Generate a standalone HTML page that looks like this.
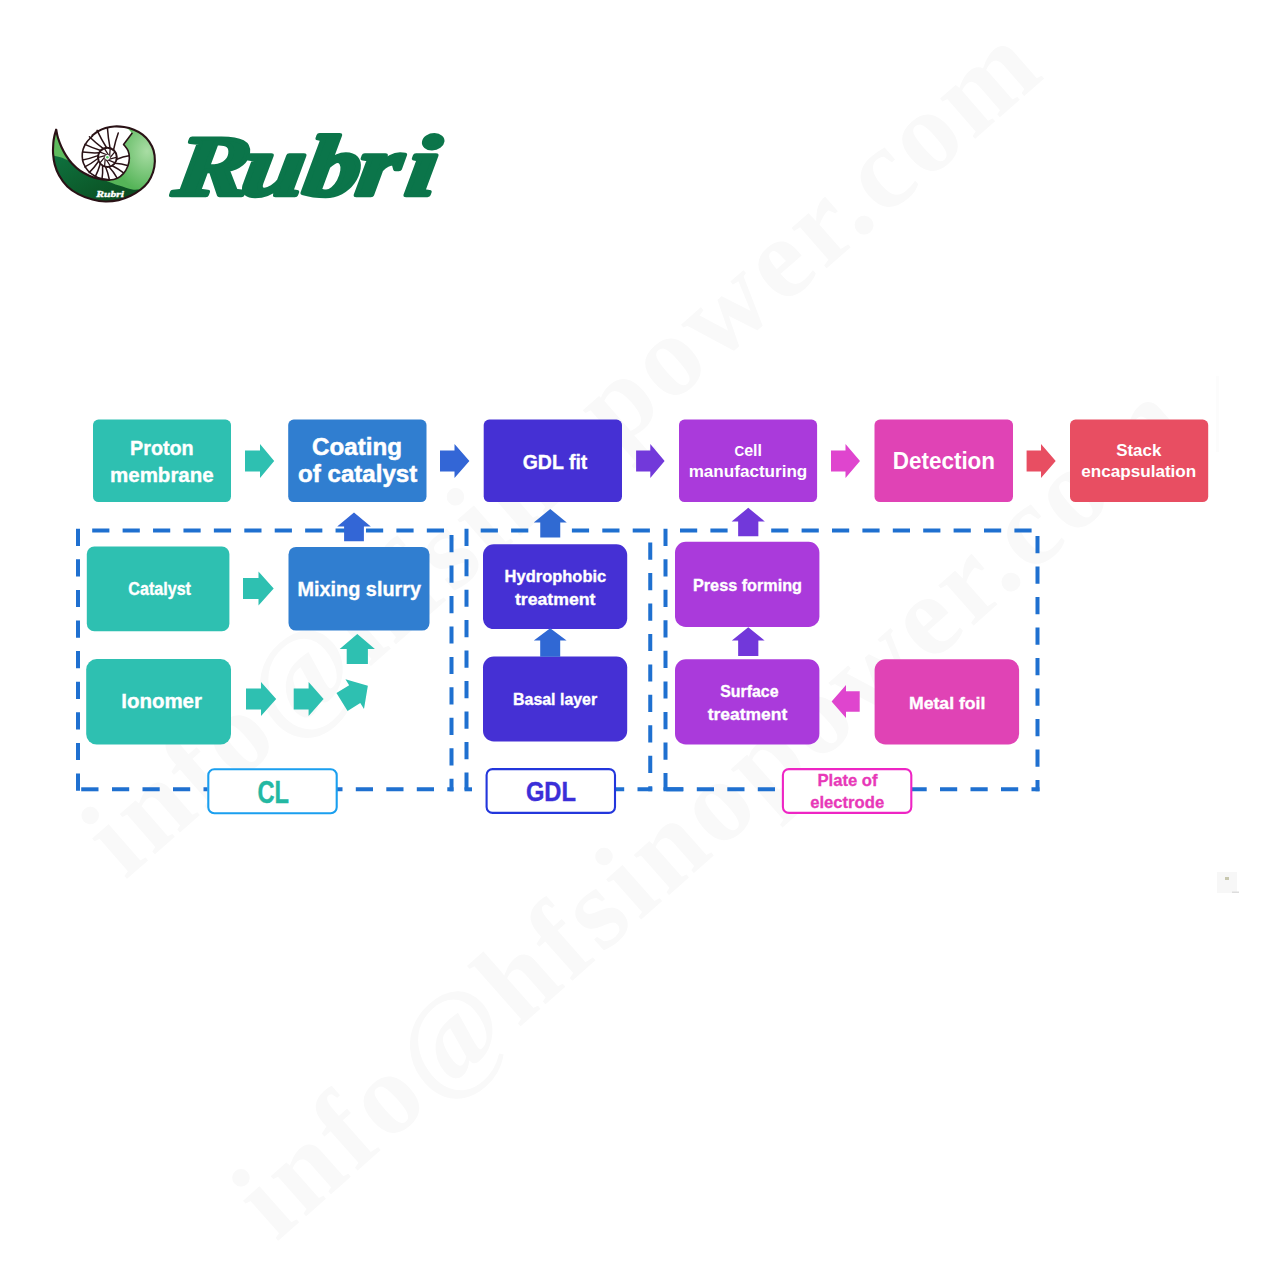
<!DOCTYPE html>
<html lang="en"><head><meta charset="utf-8"><title>Rubri - Fuel cell stack process flow</title>
<style>
html,body{margin:0;padding:0;background:#fff;}
body{width:1282px;height:1282px;overflow:hidden;position:relative;}
svg{position:absolute;left:0;top:0;display:block;}
text{font-family:"Liberation Sans",sans-serif;font-weight:bold;}
.wm text{font-family:"Liberation Serif",serif;font-weight:bold;fill:#f9f9f9;font-size:116px;letter-spacing:4.4px;}
.logo{font-family:"Liberation Serif",serif;font-weight:bold;font-style:italic;}
</style></head><body>
<svg width="1282" height="1282" viewBox="0 0 1282 1282">
<defs>
<radialGradient id="gcres" cx="0.75" cy="0.4" r="0.6"><stop offset="0" stop-color="#A9DDA4"/><stop offset="1" stop-color="#55B458"/></radialGradient>
<clipPath id="clipdiag"><rect x="330" y="670" width="38" height="60"/></clipPath>
</defs>

<g class="wm">
<text transform="translate(124.9,880.4) rotate(-41.1)">info@hfsinopower.com</text>
<text transform="translate(276.2,1242.5) rotate(-41.5)">info@hfsinopower.com</text>
</g>
<g fill="none" stroke="#1F70D0" stroke-width="4">
<path d="M92.2 530.5H452" stroke-dasharray="17.2 13.22" stroke-dashoffset="0.0"/>
<path d="M78 528.7V791.2" stroke-dasharray="17.2 13.4" stroke-dashoffset="0.0"/>
<path d="M100 789.3H207.6" stroke-dasharray="17.2 13.3" stroke-dashoffset="18.5"/>
<path d="M81.2 789.3H98.5"/>
<path d="M337 789.3H453.5" stroke-dasharray="17.2 13.3" stroke-dashoffset="11.7"/>
<path d="M451.5 535V791.2" stroke-dasharray="17.2 13.27" stroke-dashoffset="0.0"/>
<path d="M480.7 530.5H652" stroke-dasharray="17.2 13.2" stroke-dashoffset="0.0"/>
<path d="M466.5 528.7V791.2" stroke-dasharray="17.2 13.27" stroke-dashoffset="0.0"/>
<path d="M464.5 789.3H472"/>
<path d="M616 789.3H652.2" stroke-dasharray="17.2 13.3" stroke-dashoffset="9.0"/>
<path d="M650.25 542.5V791.2" stroke-dasharray="17.2 13.27" stroke-dashoffset="0.0"/>
<path d="M680 530.5H1036" stroke-dasharray="17.2 13.2" stroke-dashoffset="0.0"/>
<path d="M665.5 528.7V791.2" stroke-dasharray="17.2 13.34" stroke-dashoffset="0.0"/>
<path d="M663.5 789.3H683"/>
<path d="M663.5 789.3H782.6" stroke-dasharray="17.2 13.3" stroke-dashoffset="27.7"/>
<path d="M911.5 789.3H1039.5" stroke-dasharray="17.2 13.3" stroke-dashoffset="2.0"/>
<path d="M1037.5 536V791.2" stroke-dasharray="17.2 13.3" stroke-dashoffset="0.0"/>
</g>
<rect x="93" y="419.6" width="138" height="82.4" rx="5.5" fill="#2EC0B1"/>
<rect x="288.2" y="419.6" width="138.3" height="82.4" rx="5.5" fill="#307ED0"/>
<rect x="483.7" y="419.6" width="138.3" height="82.4" rx="5.5" fill="#4530D4"/>
<rect x="679" y="419.6" width="138.1" height="82.4" rx="5.5" fill="#AA3ADB"/>
<rect x="874.5" y="419.6" width="138.5" height="82.4" rx="5.5" fill="#E043B5"/>
<rect x="1070" y="419.6" width="138.2" height="82.4" rx="5.5" fill="#E84E62"/>
<rect x="86.8" y="546.5" width="142.6" height="84.8" rx="7.5" fill="#2EC0B1"/>
<rect x="288.5" y="546.9" width="141.0" height="83.7" rx="7.5" fill="#307ED0"/>
<rect x="483" y="544.3" width="144.2" height="84.8" rx="10.8" fill="#4530D4"/>
<rect x="675" y="541.8" width="144.4" height="85.2" rx="10.8" fill="#AA3ADB"/>
<rect x="86.2" y="659.1" width="144.8" height="85.5" rx="10.5" fill="#2EC0B1"/>
<rect x="483" y="656.5" width="144.2" height="85.0" rx="10.8" fill="#4530D4"/>
<rect x="675" y="659.3" width="144.4" height="85.2" rx="10.8" fill="#AA3ADB"/>
<rect x="874.6" y="659.3" width="144.5" height="85.2" rx="10.8" fill="#E043B5"/>
<path d="M245 450.5H260V444L274.2 461L260 478V471.5H245Z" fill="#2EC0B1"/>
<path d="M440 450.5H454.5V444L469.4 461L454.5 478V471.5H440Z" fill="#3366D6"/>
<path d="M636.1 450.5H650.3V444L664.6 461L650.3 478V471.5H636.1Z" fill="#7239DA"/>
<path d="M831 450.5H845.5V444L860 461L845.5 478V471.5H831Z" fill="#DF45CE"/>
<path d="M1026.6 450.5H1041V444L1055.7 461L1041 478V471.5H1026.6Z" fill="#E84E62"/>
<path d="M243 578.0H258.5V571.5L273.7 588.5L258.5 605.5V599.0H243Z" fill="#2EC0B1"/>
<path d="M246 688.5H261V682L276.2 699L261 716V709.5H246Z" fill="#2EC0B1"/>
<path d="M293.7 688.5H308.6V682L323.6 699L308.6 716V709.5H293.7Z" fill="#2EC0B1"/>
<g clip-path="url(#clipdiag)"><g transform="translate(342,702) rotate(-32)"><path d="M0 -10.5H15V-17.5L30.5 0L15 17.5V10.5H0Z" fill="#2EC0B1"/></g></g>
<path d="M859.7 691.3H846V685.0L831.6 701.5L846 718.0V711.7H859.7Z" fill="#DF45CE"/>
<path d="M344.1 541.2V526.5H337.2L354 512.5L370.8 526.5H363.9V541.2Z" fill="#3366D6"/>
<path d="M540.25 537.4V522.5H533.75L550.25 509L566.75 522.5H560.25V537.4Z" fill="#306AD2"/>
<path d="M738.15 536.2V521.5H731.65L748.25 507.8L764.85 521.5H758.35V536.2Z" fill="#7238DA"/>
<path d="M346.7 664V649H339.7L357.3 634L374.90000000000003 649H367.90000000000003V664Z" fill="#2EC0B1"/>
<path d="M540.2 656.8V640.6H533.8000000000001L550.2 628.2L566.6 640.6H560.2V656.8Z" fill="#3068D4"/>
<path d="M738.15 655.9V640.6H731.85L748.25 627.2L764.65 640.6H758.35V655.9Z" fill="#7238DA"/>
<rect x="208.3" y="769.2" width="128.4" height="44" rx="6" fill="#fff" stroke="#1A9FEF" stroke-width="2.1"/>
<rect x="486.6" y="769.1" width="128.4" height="43.8" rx="6" fill="#fff" stroke="#2336DC" stroke-width="2.1"/>
<rect x="782.9" y="769.1" width="128.4" height="43.8" rx="6" fill="#fff" stroke="#EE25C4" stroke-width="2.1"/>
<text x="130" y="455" font-size="20" fill="#fff" textLength="63.7" lengthAdjust="spacingAndGlyphs" stroke="#fff" stroke-width="0.35">Proton</text>
<text x="110" y="482" font-size="20" fill="#fff" textLength="103.7" lengthAdjust="spacingAndGlyphs" stroke="#fff" stroke-width="0.35">membrane</text>
<text x="312.1" y="454.9" font-size="23.6" fill="#fff" textLength="89.9" lengthAdjust="spacingAndGlyphs" stroke="#fff" stroke-width="0.5">Coating</text>
<text x="298.1" y="482.4" font-size="23.6" fill="#fff" textLength="119.2" lengthAdjust="spacingAndGlyphs" stroke="#fff" stroke-width="0.5">of catalyst</text>
<text x="522.7" y="468.6" font-size="21" fill="#fff" textLength="64.6" lengthAdjust="spacingAndGlyphs" stroke="#fff" stroke-width="0.35">GDL fit</text>
<text x="734.5" y="456.3" font-size="17" fill="#fff" textLength="27.5" lengthAdjust="spacingAndGlyphs"><tspan font-size="14.2">C</tspan>ell</text>
<text x="688.7" y="477.3" font-size="17" fill="#fff" textLength="118.6" lengthAdjust="spacingAndGlyphs">manufacturing</text>
<text x="892.7" y="468.7" font-size="23.2" fill="#fff" textLength="102.4" lengthAdjust="spacingAndGlyphs">Detection</text>
<text x="1116.2" y="456.3" font-size="17" fill="#fff" textLength="45.2" lengthAdjust="spacingAndGlyphs">Stack</text>
<text x="1081.2" y="477.3" font-size="17" fill="#fff" textLength="115.1" lengthAdjust="spacingAndGlyphs">encapsulation</text>
<text x="128.3" y="595.3" font-size="17.5" fill="#fff" textLength="62.7" lengthAdjust="spacingAndGlyphs" stroke="#fff" stroke-width="0.35">Catalyst</text>
<text x="297.5" y="596.2" font-size="20" fill="#fff" textLength="123.5" lengthAdjust="spacingAndGlyphs" stroke="#fff" stroke-width="0.35">Mixing slurry</text>
<text x="504.6" y="581.8" font-size="17" fill="#fff" textLength="101.6" lengthAdjust="spacingAndGlyphs" stroke="#fff" stroke-width="0.35">Hydrophobic</text>
<text x="514.9" y="604.6" font-size="17" fill="#fff" textLength="80.5" lengthAdjust="spacingAndGlyphs" stroke="#fff" stroke-width="0.35">treatment</text>
<text x="693" y="590.8" font-size="17" fill="#fff" textLength="109" lengthAdjust="spacingAndGlyphs" stroke="#fff" stroke-width="0.35">Press forming</text>
<text x="121.2" y="708.3" font-size="20" fill="#fff" textLength="80.8" lengthAdjust="spacingAndGlyphs" stroke="#fff" stroke-width="0.35">Ionomer</text>
<text x="513" y="705.1" font-size="17" fill="#fff" textLength="84.2" lengthAdjust="spacingAndGlyphs" stroke="#fff" stroke-width="0.35">Basal layer</text>
<text x="720.2" y="697.1" font-size="17" fill="#fff" textLength="58.3" lengthAdjust="spacingAndGlyphs" stroke="#fff" stroke-width="0.35">Surface</text>
<text x="707.7" y="719.6" font-size="17" fill="#fff" textLength="79.6" lengthAdjust="spacingAndGlyphs" stroke="#fff" stroke-width="0.35">treatment</text>
<text x="909" y="708.6" font-size="17" fill="#fff" textLength="76.4" lengthAdjust="spacingAndGlyphs" stroke="#fff" stroke-width="0.35">Metal foil</text>
<text x="257.4" y="803" font-size="31.3" fill="#24B8A2" textLength="31.5" lengthAdjust="spacingAndGlyphs" stroke="#24B8A2" stroke-width="0.4">CL</text>
<text x="525.9" y="801.2" font-size="27" fill="#3B2FD8" textLength="50.0" lengthAdjust="spacingAndGlyphs" stroke="#3B2FD8" stroke-width="0.4">GDL</text>
<text x="817.4" y="786" font-size="17" fill="#E838B8" textLength="60.2" lengthAdjust="spacingAndGlyphs" stroke="#E838B8" stroke-width="0.3">Plate of</text>
<text x="810.2" y="808.4" font-size="17" fill="#E838B8" textLength="74.0" lengthAdjust="spacingAndGlyphs" stroke="#E838B8" stroke-width="0.3">electrode</text>
<rect x="1216" y="376" width="3" height="76" fill="#fcfcfc"/>
<rect x="1217" y="872" width="20" height="21" fill="#f7f7f7"/><rect x="1225" y="877" width="4" height="3" fill="#c8c8b0"/><rect x="1232" y="891.5" width="7" height="1.5" fill="#ddd"/>
<text class="logo" transform="translate(172,195.2) skewX(-8) scale(1.3,1)" x="0" y="0" font-size="86" fill="#0B754A" stroke="#0B754A" stroke-width="4.4" stroke-linejoin="round">R<tspan dx="-5.5">u</tspan><tspan dx="0">b</tspan><tspan dx="-2.5">r</tspan><tspan dx="4.5">i</tspan></text>
<g transform="translate(48,120) scale(0.08892)">
<defs><linearGradient id="gdk" x1="0" y1="0" x2="1" y2="1"><stop offset="0" stop-color="#0F7340"/><stop offset="0.5" stop-color="#0C5C2C"/><stop offset="1" stop-color="#0A4219"/></linearGradient></defs>
<clipPath id="cbody"><path d="M92 109C89 121 77 156 72 180C67 204 62 223 60 256C58 289 54 338 57 379C60 420 65 461 76 502C87 543 102 583 125 624C148 665 181 712 217 747C253 782 293 808 340 833C387 858 449 881 500 895C551 909 598 916 647 917C696 918 747 912 794 901C841 890 888 872 929 852C970 832 1007 810 1040 784C1073 758 1102 731 1126 698C1150 665 1168 627 1181 588C1194 549 1201 506 1202 465C1203 424 1198 379 1187 342C1176 305 1158 274 1138 244C1118 214 1093 186 1064 164C1035 142 1001 123 966 109C931 95 893 85 856 79C819 73 780 71 745 73C710 75 678 82 647 91C616 100 586 114 561 128C536 142 521 152 500 172C479 192 452 224 435 250C418 276 403 303 395 330C387 357 384 383 385 410C386 437 389 463 400 490C411 517 428 546 450 570C472 594 503 617 530 632C557 647 583 655 610 662C637 669 695 674 690 674C685 674 617 670 580 663C543 656 507 646 470 630C433 614 393 593 360 570C327 547 297 519 270 490C243 461 220 427 200 395C180 363 165 332 150 300C135 268 122 231 112 200C102 169 96 127 93 112Z"/></clipPath>
<path d="M92 109C89 121 77 156 72 180C67 204 62 223 60 256C58 289 54 338 57 379C60 420 65 461 76 502C87 543 102 583 125 624C148 665 181 712 217 747C253 782 293 808 340 833C387 858 449 881 500 895C551 909 598 916 647 917C696 918 747 912 794 901C841 890 888 872 929 852C970 832 1007 810 1040 784C1073 758 1102 731 1126 698C1150 665 1168 627 1181 588C1194 549 1201 506 1202 465C1203 424 1198 379 1187 342C1176 305 1158 274 1138 244C1118 214 1093 186 1064 164C1035 142 1001 123 966 109C931 95 893 85 856 79C819 73 780 71 745 73C710 75 678 82 647 91C616 100 586 114 561 128C536 142 521 152 500 172C479 192 452 224 435 250C418 276 403 303 395 330C387 357 384 383 385 410C386 437 389 463 400 490C411 517 428 546 450 570C472 594 503 617 530 632C557 647 583 655 610 662C637 669 695 674 690 674C685 674 617 670 580 663C543 656 507 646 470 630C433 614 393 593 360 570C327 547 297 519 270 490C243 461 220 427 200 395C180 363 165 332 150 300C135 268 122 231 112 200C102 169 96 127 93 112Z" fill="#5FBB5E"/>
<g clip-path="url(#cbody)">
<path d="M945 150C929 171 858 242 850 275C842 308 889 319 900 345C911 371 916 401 915 430C914 459 908 492 897 520C886 548 870 578 850 600C830 622 807 643 780 655C753 667 712 670 690 674C668 678 632 669 650 680C668 691 750 722 800 740C850 758 903 775 950 785C997 795 1030 814 1080 800C1130 786 1220 767 1250 700C1280 633 1268 500 1260 400C1252 300 1243 158 1200 100C1157 42 1042 42 1000 50C958 58 954 133 945 150Z" fill="url(#gcres)"/>
<path d="M30 392C48 396 110 409 140 418C170 427 190 436 212 448C234 460 245 470 270 490C295 510 327 547 360 570C393 593 433 614 470 630C507 646 550 654 580 663C610 672 613 670 650 682C687 694 750 721 800 738C850 755 903 772 950 782C997 792 1055 769 1080 797C1105 825 1180 920 1100 950C1020 980 750 988 600 980C450 972 297 963 200 900C103 837 48 685 20 600C-8 515 28 427 30 392Z" fill="url(#gdk)"/>
<path d="M945 150C938 142 924 115 900 100C876 85 837 65 800 60C763 55 720 60 680 70C640 80 590 102 560 120C530 138 521 158 500 180C479 202 452 225 435 250C418 275 403 303 395 330C387 357 384 383 385 410C386 437 389 463 400 490C411 517 428 546 450 570C472 594 503 617 530 632C557 647 583 655 610 662C637 669 662 675 690 674C718 673 753 667 780 655C807 643 830 622 850 600C870 578 886 548 897 520C908 492 914 459 915 430C916 401 911 371 900 345C889 319 858 287 850 275Z" fill="#fff"/>
</g>
<g stroke="#2A1216" stroke-width="17" fill="none" stroke-linecap="round">
<path d="M737 337Q757 237 790 146"/>
<path d="M698 316Q676 200 668 87"/>
<path d="M659 312Q598 215 552 117"/>
<path d="M622 322Q537 259 466 188"/>
<path d="M593 342Q499 314 415 274"/>
<path d="M573 369Q478 373 391 361"/>
<path d="M562 401Q474 434 389 449"/>
<path d="M561 433Q489 489 414 528"/>
<path d="M569 464Q520 536 463 592"/>
<path d="M588 492Q565 572 531 640"/>
<path d="M614 514Q618 594 607 666"/>
<path d="M647 526Q677 600 690 671"/>
<path d="M685 527Q738 585 774 647"/>
<path d="M722 514Q791 548 846 592"/>
<path d="M753 486Q829 492 894 511"/>
<path d="M774 442Q844 414 911 403"/>
</g>
<ellipse cx="668" cy="420" rx="106" ry="108" fill="#fff" stroke="#2A1216" stroke-width="22"/>
<g stroke="#2A1216" stroke-width="14" fill="none" stroke-linecap="round">
<path d="M691 439L768 420"/>
<path d="M675 449L749 479"/>
<path d="M657 448L699 515"/>
<path d="M643 436L637 515"/>
<path d="M638 418L587 479"/>
<path d="M645 401L568 420"/>
<path d="M661 391L587 361"/>
<path d="M679 392L637 325"/>
<path d="M693 404L699 325"/>
<path d="M698 422L749 361"/>
</g>
<circle cx="668" cy="420" r="34" fill="#fff" stroke="#2A1216" stroke-width="9"/>
<circle cx="668" cy="420" r="14" fill="#4FD060"/>
<g fill="none" stroke="#2A1216" stroke-linejoin="round" stroke-linecap="round">
<path d="M92 109C89 121 77 156 72 180C67 204 62 223 60 256C58 289 54 338 57 379C60 420 65 461 76 502C87 543 102 583 125 624C148 665 181 712 217 747C253 782 293 808 340 833C387 858 449 881 500 895C551 909 598 916 647 917C696 918 747 912 794 901C841 890 888 872 929 852C970 832 1007 810 1040 784C1073 758 1102 731 1126 698C1150 665 1168 627 1181 588C1194 549 1201 506 1202 465C1203 424 1198 379 1187 342C1176 305 1158 274 1138 244C1118 214 1093 186 1064 164C1035 142 1001 123 966 109C931 95 893 85 856 79C819 73 780 71 745 73C710 75 678 82 647 91C616 100 586 114 561 128C536 142 510 165 500 172" stroke-width="24"/>
<path d="M93 112C96 127 102 169 112 200C122 231 135 268 150 300C165 332 180 363 200 395C220 427 243 461 270 490C297 519 327 547 360 570C393 593 433 614 470 630C507 646 543 656 580 663C617 670 672 672 690 674" stroke-width="24"/>
<path d="M500 180C489 192 452 225 435 250C418 275 403 303 395 330C387 357 384 383 385 410C386 437 389 463 400 490C411 517 428 546 450 570C472 594 503 617 530 632C557 647 583 655 610 662C637 669 662 675 690 674C718 673 753 667 780 655C807 643 830 622 850 600C870 578 886 548 897 520C908 492 914 459 915 430C916 401 911 371 900 345C889 319 858 287 850 275L945 150" stroke-width="18"/>
</g>
<text class="logo" x="543" y="868" font-size="98" fill="#fff" stroke="#fff" stroke-width="4" textLength="310" lengthAdjust="spacingAndGlyphs">Rubri</text>
</g>
</svg></body></html>
